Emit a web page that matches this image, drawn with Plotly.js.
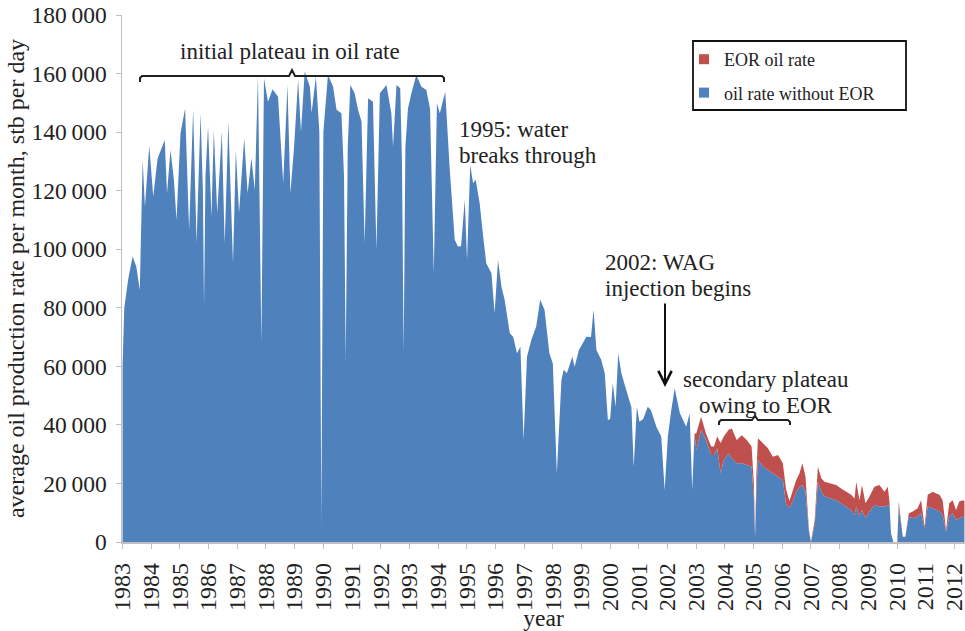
<!DOCTYPE html>
<html><head><meta charset="utf-8">
<script src="https://cdn.plot.ly/plotly-3.0.1.min.js"></script>
<style>html,body{margin:0;padding:0;background:#fff}#chart{width:965px;height:631px}</style>
</head><body><div id="chart"></div>
<script>
// decimal year of each reading
const years = [
 1983.00,1983.06,1983.20,1983.35,1983.48,1983.60,1983.70,1983.78,1983.93,
 1984.07,1984.22,1984.47,1984.55,1984.67,1984.79,1984.88,
 1985.02,1985.18,1985.32,1985.46,1985.58,1985.72,1985.80,1985.84,1985.89,1985.98,
 1986.10,1986.18,1986.30,1986.46,1986.56,1986.69,1986.85,1986.95,
 1987.06,1987.24,1987.36,1987.49,1987.61,1987.72,1987.84,1987.93,
 1988.07,1988.23,1988.42,1988.60,1988.75,1988.85,1988.98,
 1989.12,1989.22,1989.35,1989.53,1989.59,1989.74,1989.86,1989.93,
 1990.00,1990.16,1990.34,1990.46,1990.63,1990.72,1990.78,1990.85,1990.94,
 1991.09,1991.21,1991.33,1991.44,1991.56,1991.73,1991.85,1991.97,
 1992.20,1992.37,1992.43,1992.55,1992.68,1992.74,1992.80,1992.86,1992.95,
 1993.07,1993.24,1993.42,1993.59,1993.72,1993.85,1993.96,
 1994.06,1994.25,1994.40,1994.58,1994.69,1994.80,1994.93,
 1995.01,1995.12,1995.22,1995.31,1995.45,1995.56,1995.68,1995.86,1995.97,
 1996.09,1996.21,1996.32,1996.50,1996.62,1996.75,1996.87,1996.98,
 1997.10,1997.25,1997.42,1997.56,1997.71,1997.88,
 1998.00,1998.14,1998.30,1998.38,1998.49,1998.68,1998.76,1998.91,
 1999.17,1999.33,1999.42,1999.52,1999.69,1999.81,1999.92,
 2000.00,2000.09,2000.19,2000.28,2000.39,2000.56,2000.74,2000.82,2000.93,
 2001.02,2001.15,2001.31,2001.42,2001.61,2001.78,2001.90,
 2002.01,2002.13,2002.25,2002.31,2002.43,2002.65,2002.77,2002.86,2002.94,
 2003.00,2003.17,2003.34,2003.52,2003.62,2003.73,2003.85,2003.96,
 2004.13,2004.24,2004.41,2004.59,2004.76,2004.93,
 2005.01,2005.05,2005.10,2005.15,2005.33,2005.50,2005.67,2005.85,
 2006.02,2006.13,2006.25,2006.37,2006.48,2006.60,2006.70,2006.81,2006.93,
 2007.00,2007.13,2007.24,2007.36,2007.47,2007.70,2007.88,
 2008.05,2008.23,2008.40,2008.52,2008.58,2008.69,2008.78,2008.90,
 2009.04,2009.21,2009.39,2009.56,2009.68,2009.74,2009.79,2009.87,
 2010.01,2010.06,2010.20,2010.29,2010.41,2010.55,2010.72,2010.84,2010.96,
 2011.07,2011.25,2011.36,2011.48,2011.59,2011.71,2011.82,2011.94,
 2012.06,2012.17,2012.29,2012.35
];
// oil rate without EOR (stb per day)
const rateWithoutEOR = [
 60000,80000,90000,97500,94000,86000,130500,114500,135300,
 118000,131000,137300,119100,133900,123700,110000,
 139600,148100,106600,147600,102100,146400,120000,80400,125000,141900,
 111100,140700,112300,140200,102000,143600,95200,133900,
 112300,137900,119100,131100,120200,159000,67900,158400,
 150400,154600,152100,122500,156100,119100,135000,
 157800,140000,160700,155500,146500,159000,140000,6500,
 140000,159500,155500,147600,146400,125000,62200,135000,156100,
 153300,147600,143600,102000,151600,150400,99700,153300,
 156100,146400,135000,156100,155000,130000,64500,135000,148100,
 153300,159500,155500,154400,148000,91800,149900,
 146400,153800,128200,103200,100900,101000,116800,
 96300,128800,122500,123700,115700,105400,95200,91800,78100,
 96300,87200,82700,71300,70000,64500,66700,34800,
 63300,69000,73600,82700,79300,64500,
 61000,23500,55300,58800,57600,63300,59900,65600,
 70100,70000,79300,65600,62200,57600,41700,
 42000,54200,46200,64500,57600,51900,46000,25700,46200,
 41100,42000,46200,45100,39400,36000,17800,
 36000,45100,52500,49600,44000,39400,44000,17800,37100,
 31400,38300,34800,29700,29700,32000,23500,28000,
 30300,28600,26900,26900,26300,25700,
 15000,1500,18000,28000,25700,24600,23500,22300,
 21200,13000,11500,14000,17000,18900,19500,17200,3500,
 0,6000,20600,17200,15500,14900,14300,
 13200,12100,10900,9200,12100,8600,10900,8100,
 10400,12600,12100,12100,12600,12600,3000,0,
 0,12100,1800,1800,8600,8100,8600,9800,4500,
 12100,11500,10900,10400,9200,3500,8600,9800,
 7500,8100,8600,8600
];
// additional EOR oil rate (stb per day)
const eorRate = [
 0,0,0,0,0,0,0,0,0,
 0,0,0,0,0,0,0,
 0,0,0,0,0,0,0,0,0,0,
 0,0,0,0,0,0,0,0,
 0,0,0,0,0,0,0,0,
 0,0,0,0,0,0,0,
 0,0,0,0,0,0,0,0,
 0,0,0,0,0,0,0,0,0,
 0,0,0,0,0,0,0,0,
 0,0,0,0,0,0,0,0,0,
 0,0,0,0,0,0,0,
 0,0,0,0,0,0,0,
 0,0,0,0,0,0,0,0,0,
 0,0,0,0,0,0,0,0,
 0,0,0,0,0,0,
 0,0,0,0,0,0,0,0,
 0,0,0,0,0,0,0,
 0,0,0,0,0,0,0,0,0,
 0,0,0,0,0,0,0,
 0,0,0,0,0,0,0,0,0,
 5700,4500,2300,2900,2900,4000,10300,8000,
 8000,10200,7900,9600,8500,6900,
 5000,300,6000,7400,8000,7400,5600,7400,
 5700,5000,2500,3500,4000,4600,7400,5100,600,
 0,1500,5100,4600,5100,5200,5200,
 5100,5100,5200,5700,8500,5700,8600,5100,
 5100,6300,7400,5100,6300,600,0,0,
 0,1700,0,0,1200,2300,2900,4500,700,
 4000,5700,5700,5700,5100,600,4600,4500,
 3400,5700,5700,5400
];
const yTickVals = [0,20000,40000,60000,80000,100000,120000,140000,160000,180000];
const yTickText = ['0','20\u2009000','40\u2009000','60\u2009000','80\u2009000','100\u2009000','120\u2009000','140\u2009000','160\u2009000','180\u2009000'];
const xTickVals = [1983,1984,1985,1986,1987,1988,1989,1990,1991,1992,1993,1994,1995,1996,1997,1998,1999,2000,2001,2002,2003,2004,2005,2006,2007,2008,2009,2010,2011,2012];
const xTickText = ['1983','1984','1985','1986','1987','1988','1989','1990','1991','1992','1993','1994','1995','1996','1997','1998','1999','2000','2001','2002','2003','2004','2005','2006','2007','2008','2009','2010','2011','2012'];
const seriesNames = ['EOR oil rate','oil rate without EOR'];
const BLUE = '#4f81bd', RED = '#c0504d';
const FONT = '"Liberation Serif", "Times New Roman", Times, serif';

// pixel -> paper helpers (plot area: x 122..965, y 15..542)
const L = 122, T = 15, W = 843, H = 527;
const px = v => (v - L) / W;
const py = v => (T + H - v) / H;
function path(pts){ return pts.map((p,i)=>(i?'L':'M')+px(p[0]).toFixed(5)+','+py(p[1]).toFixed(5)).join(' '); }

const traces = [
 {x: years, y: rateWithoutEOR, type:'scatter', mode:'lines', stackgroup:'one',
  line:{width:0, color:BLUE}, fillcolor:BLUE, showlegend:false, hoverinfo:'skip'},
 {x: years, y: eorRate, type:'scatter', mode:'lines', stackgroup:'one',
  line:{width:0, color:RED}, fillcolor:RED, showlegend:false, hoverinfo:'skip'},
 {x:[null], y:[null], type:'scatter', mode:'markers', name: seriesNames[0], legendgroup:'a',
  marker:{symbol:'square', size:10, color:RED}},
 {x:[null], y:[null], type:'scatter', mode:'markers', name: seriesNames[1], legendgroup:'b',
  marker:{symbol:'square', size:10, color:BLUE}}
];

function ann(text, x, y){
  return {text, xref:'paper', yref:'paper', x:px(x), y:py(y), xanchor:'left', yanchor:'middle',
          showarrow:false, font:{family:FONT, size:23, color:'#222'}};
}

const layout = {
  width:965, height:631,
  margin:{l:L, r:965-L-W, t:T, b:631-T-H, pad:0},
  paper_bgcolor:'#fff', plot_bgcolor:'#fff',
  font:{family:FONT, color:'#222'},
  showlegend:true,
  legend:{x:px(684), y:py(41), xanchor:'left', yanchor:'top', bgcolor:'rgba(0,0,0,0)',
          borderwidth:0, font:{family:FONT, size:18, color:'#222'}, traceorder:'grouped', tracegroupgap:7},
  xaxis:{range:[1982.98, 2012.37], tickmode:'array', tickvals:xTickVals, ticktext:xTickText,
         tickangle:-90, tickfont:{family:FONT, size:24, color:'#222'}, ticks:'outside', ticklen:5,
         tickcolor:'#bfbfbf', showline:true, linecolor:'#bfbfbf', linewidth:1.5, showgrid:false,
         zeroline:false, ticklabelstandoff:5, ticklabeloverflow:'allow',
         title:{text:'year', font:{family:FONT, size:23.5, color:'#222'}, standoff:0}},
  yaxis:{range:[0,180000], tickmode:'array', tickvals:yTickVals, ticktext:yTickText,
         tickfont:{family:FONT, size:23.5, color:'#222'}, ticks:'outside', ticklen:5,
         tickcolor:'#bfbfbf', showline:true, linecolor:'#bfbfbf', linewidth:1.5, showgrid:false,
         zeroline:false, ticklabelstandoff:4,
         title:{text:'average oil production rate per month, stb per day', font:{family:FONT, size:24, color:'#222'}, standoff:0}},
  annotations:[
    ann('initial plateau in oil rate', 178, 52),
    ann('1995: water', 456.5, 129),
    ann('breaks through', 456.5, 155),
    ann('2002: WAG', 603.3, 262),
    ann('injection begins', 603.3, 288),
    ann('secondary plateau', 681, 379),
    ann('owing to EOR', 697, 405),
    {text:'', xref:'paper', yref:'paper', x:px(665), y:py(387), ax:0, ay:-85,
     showarrow:true, arrowhead:5, arrowsize:1.3, arrowwidth:2, arrowcolor:'#111'}
  ],
  shapes:[
    {type:'path', xref:'paper', yref:'paper', line:{color:'#222', width:2},
     path: path([[140,82],[140,78],[142,76],[289,76],[292,70],[295,76],[442,76],[444,78],[444,82]])},
    {type:'path', xref:'paper', yref:'paper', line:{color:'#222', width:2},
     path: path([[719,425],[719,422],[721,420],[752,420],[755,416],[758,420],[788,420],[790,422],[790,425]])},
    {type:'rect', xref:'paper', yref:'paper', x0:px(693), x1:px(906), y0:py(41), y1:py(110),
     line:{color:'#111', width:1.8}, fillcolor:'rgba(0,0,0,0)'}
  ]
};

Plotly.newPlot('chart', traces, layout, {displayModeBar:false, staticPlot:true});
</script>
</body></html>
